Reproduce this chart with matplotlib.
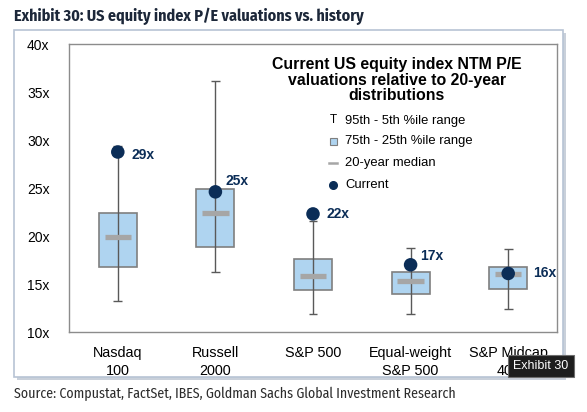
import numpy as np
import matplotlib
matplotlib.use("Agg")
from matplotlib import pyplot as plt
from matplotlib.patches import Rectangle

# data (P/E, x)
cats = ["Nasdaq\n100", "Russell\n2000", "S&P 500", "Equal-weight\nS&P 500", "S&P Midcap\n400"]
p5 = [13.2, 16.25, 11.9, 11.9, 12.4]
p25 = [16.8, 18.9, 14.4, 13.95, 14.5]
med = [19.9, 22.4, 15.8, 15.3, 16.0]
p75 = [22.4, 24.9, 17.6, 16.25, 16.8]
p95 = [29.4, 36.1, 21.6, 18.75, 18.6]
current = [28.75, 24.6, 22.3, 17.0, 16.1]
cur_labels = ["29x", "25x", "22x", "17x", "16x"]
yticks = [10, 15, 20, 25, 30, 35, 40]

# label offsets in points (dx, dy)
lab_off = [(10, -2), (7, 8), (10, 0), (7, 6), (18, 0)]

W, H = 587, 412
fig = plt.figure(figsize=(W / 100, H / 100), dpi=100)
fig.patch.set_facecolor("white")

sans = ["Liberation Sans", "DejaVu Sans"]
narrow = ["Fira Sans Condensed", "Roboto Condensed", "Liberation Sans", "DejaVu Sans"]
navy = "#0b2d57"
box_c = "#afd4f0"
edge_c = "#7f7f7f"
whisk_c = "#595959"
med_c = "#a6a6a6"

def fx(px):
    return px / W

def fy(py):
    return 1 - py / H

# chart frame with a soft shadow
fig.patches.append(Rectangle((fx(17), fy(380)), fx(549), 347 / H, transform=fig.transFigure,
                             facecolor="#c9d0da", edgecolor="none", zorder=0))
fig.patches.append(Rectangle((fx(14), fy(377)), fx(549), 347 / H, transform=fig.transFigure,
                             facecolor="white", edgecolor="#b8c4d4", lw=1.2, zorder=1))

ax = fig.add_axes([fx(69), fy(332), fx(557 - 69), (332 - 44) / H])
ax.set_zorder(2)
ax.patch.set_alpha(0)

x = np.arange(len(cats))
bw = 0.39
ax.bar(x, np.array(p75) - np.array(p25), bottom=p25, width=bw,
       color=box_c, edgecolor=edge_c, lw=1.2, zorder=2)
ax.vlines(x, p5, p95, color=whisk_c, lw=1, zorder=3)
ax.hlines(p5, x - 0.045, x + 0.045, color=whisk_c, lw=1, zorder=3)
ax.hlines(p95, x - 0.045, x + 0.045, color=whisk_c, lw=1, zorder=3)
ax.hlines(med, x - 0.135, x + 0.135, color=med_c, lw=3.8, zorder=4)
ax.scatter(x, current, s=95, color=navy, zorder=5, edgecolors="none")
for i in range(len(cats)):
    ax.annotate(cur_labels[i], (x[i], current[i]), xytext=lab_off[i], textcoords="offset points",
                ha="left", va="center", fontsize=10, fontweight="bold", color=navy,
                family=sans, zorder=6)

ax.set_xlim(-0.5, len(cats) - 0.5)
ax.set_ylim(10, 40)
ax.set_yticks(yticks)
ax.set_yticklabels([f"{t}x" for t in yticks], family=sans, fontsize=10)
ax.set_xticks(x)
ax.set_xticklabels(cats, family=sans, fontsize=10.4, linespacing=1.35)
ax.tick_params(length=0)
ax.tick_params(axis="y", pad=14)
ax.tick_params(axis="x", pad=10)
for s in ax.spines.values():
    s.set_color("#8c8c8c")
    s.set_linewidth(1)

# legend block
ax.text(0.672, 0.955, "Current US equity index NTM P/E\nvaluations relative to 20-year\ndistributions",
        transform=ax.transAxes, ha="center", va="top", fontsize=11.4, fontweight="bold",
        family=sans, linespacing=1.05, zorder=6)
ly = [121, 141, 163, 185]
lx_m, lx_t = 333, 345
names = ["95th - 5th %ile range", "75th - 25th %ile range", "20-year median", "Current"]
for yy, nm in zip(ly, names):
    fig.text(fx(lx_t), fy(yy), nm, ha="left", va="center", fontsize=9.4, family=sans, zorder=6)
fig.text(fx(lx_m), fy(ly[0] - 1), "T", ha="center", va="center", fontsize=8.5, family=sans)
fig.patches.append(Rectangle((fx(lx_m - 3.5), fy(ly[1] + 3.5)), fx(7), 7 / H, transform=fig.transFigure,
                             facecolor=box_c, edgecolor=edge_c, lw=0.8, zorder=6))
fig.lines.append(plt.Line2D([fx(lx_m - 4), fx(lx_m + 4)], [fy(ly[2]), fy(ly[2])],
                            transform=fig.transFigure, color=med_c, lw=1.8, zorder=6))
fig.lines.append(plt.Line2D([fx(lx_m)], [fy(ly[3])], transform=fig.transFigure, marker="o",
                            markersize=5.5, color=navy, lw=0, zorder=6))

fig.text(fx(14), fy(16), "Exhibit 30: US equity index P/E valuations vs. history", ha="left",
         va="center", fontsize=11.5, fontweight="bold", color="#1c2739", family=narrow)
fig.text(fx(14), fy(394), "Source: Compustat, FactSet, IBES, Goldman Sachs Global Investment Research",
         ha="left", va="center", fontsize=10, color="#2b2b2b", family=narrow)

# tooltip overlay seen in the screenshot
fig.text(fx(541), fy(366), "Exhibit 30", ha="center", va="center", fontsize=9, color="white",
         family=sans, zorder=10,
         bbox=dict(boxstyle="square,pad=0.4", facecolor="#1e1e1e", edgecolor="#6e6e6e", lw=0.8))

fig.savefig("out.png", dpi=100)
